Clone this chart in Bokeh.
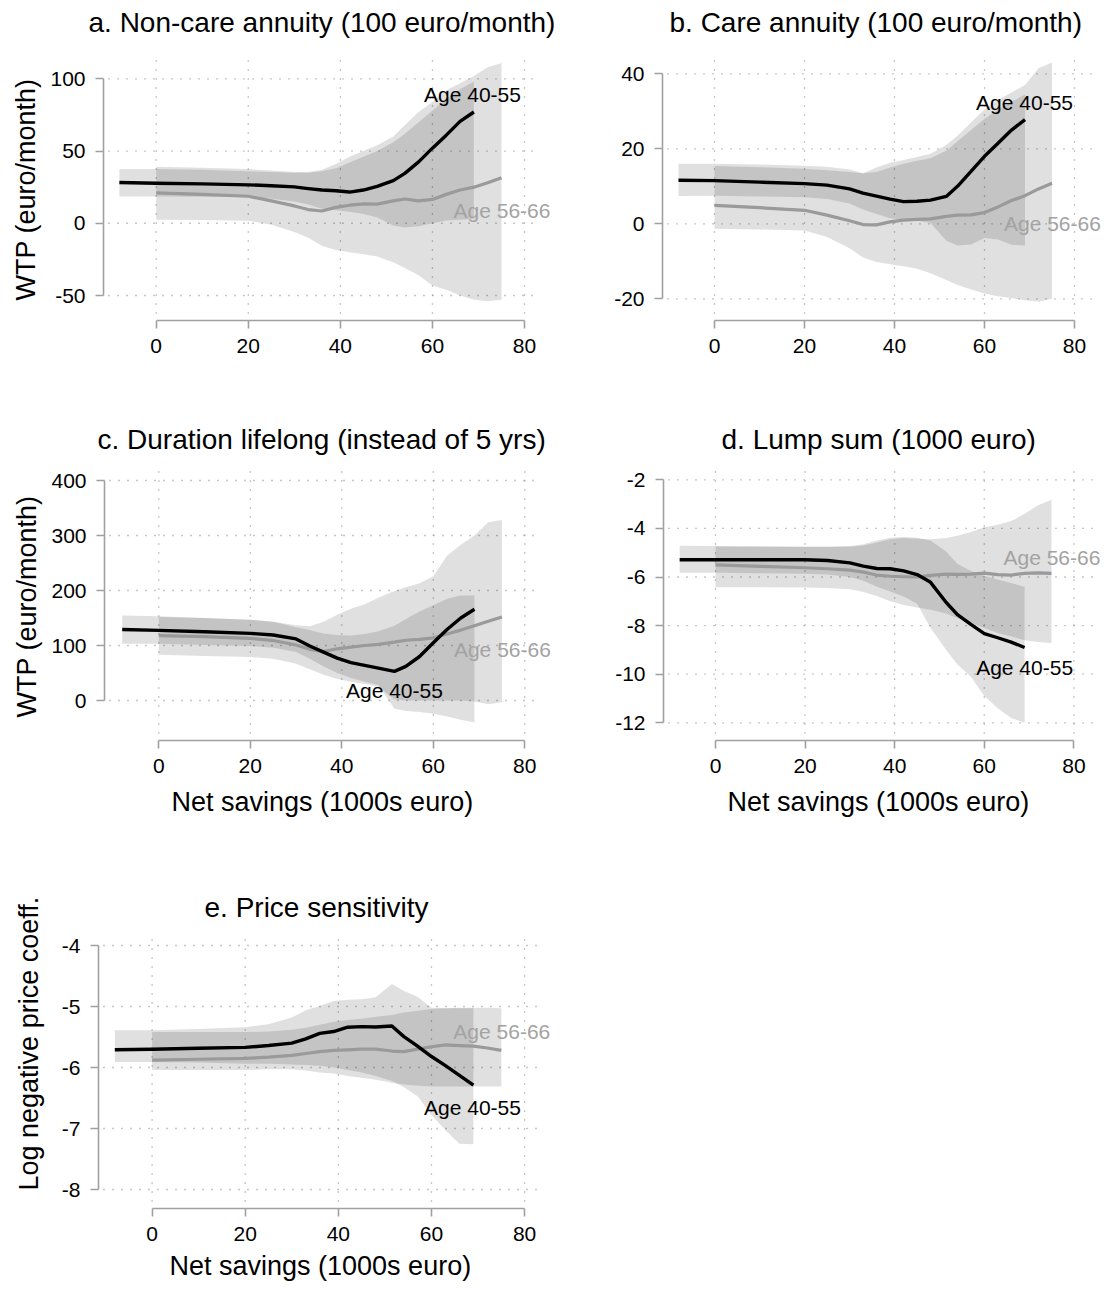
from bokeh.plotting import figure
from bokeh.layouts import column, row
from bokeh.models import Range1d, FixedTicker, PrintfTickFormatter, Title
from bokeh.core.properties import value
from bokeh.embed import file_html
from bokeh.resources import INLINE

FONT = "Liberation Sans"
BLACK = "#000000"
GREY = "#9a9a9a"
GREY_TEXT = "#a3a3a3"
AXIS_GREY = "#a0a0a0"
GRID_GREY = "#8f8f8f"

# Net savings grid (1000s euro) for the two age groups
X_YOUNG = [-8, 0, 10, 20, 25, 30, 33, 36, 39, 42, 45, 48, 51.5, 54, 57, 60, 63, 66, 69]
X_OLD = [0, 10, 20, 25, 30, 33, 36, 39, 42, 45, 48, 51.5, 54, 57, 60, 63, 66, 69, 72, 75]

SERIES_LABELS = ["Age 40-55", "Age 56-66"]
X_TICKS = [0, 20, 40, 60, 80]

# a. Non-care annuity
A_YOUNG = [28.2, 27.7, 27.3, 26.6, 26.0, 25.2, 24.0, 23.0, 22.5, 21.6, 23.0, 25.5, 29.5, 34.5, 42.5, 52.0, 61.0, 70.5, 77.0]
A_YOUNG_LO = [18.5, 18.5, 18.3, 18.0, 17.0, 15.0, 13.0, 10.0, 9.0, 8.0, 6.5, 4.0, -1.5, -3.0, -2.0, 0.0, 2.0, 2.5, 3.0]
A_YOUNG_HI = [37.6, 37.5, 37.0, 36.0, 35.5, 35.0, 35.0, 36.0, 38.0, 42.0, 46.0, 50.0, 56.0, 62.0, 70.0, 78.0, 86.0, 93.0, 98.0]
A_OLD = [21.0, 20.0, 18.7, 15.5, 12.0, 9.5, 8.5, 11.0, 12.5, 13.4, 13.3, 15.5, 16.8, 15.5, 16.5, 20.0, 23.0, 25.0, 28.0, 31.5]
A_OLD_LO = [2.5, 2.3, 1.8, -1.0, -6.0, -10.0, -15.5, -18.5, -20.0, -21.5, -23.0, -27.0, -31.0, -36.0, -43.0, -46.0, -50.0, -53.0, -54.0, -53.0]
A_OLD_HI = [39.2, 38.5, 37.5, 36.5, 35.5, 35.5, 37.0, 41.0, 46.0, 50.0, 54.0, 60.0, 68.0, 77.0, 84.0, 92.0, 97.0, 102.0, 108.0, 111.0]
A_LABEL_X = [68.7, 75.1]
A_LABEL_Y = [89.0, 8.8]
A_Y_TICKS = [-50, 0, 50, 100]

# b. Care annuity
B_YOUNG = [11.6, 11.5, 11.1, 10.7, 10.3, 9.3, 8.2, 7.4, 6.6, 5.9, 6.0, 6.3, 7.3, 10.0, 14.0, 18.0, 21.5, 25.0, 27.8]
B_YOUNG_LO = [7.4, 7.5, 7.3, 7.1, 6.6, 5.4, 3.8, 2.6, 1.5, 1.1, 0.8, 0.2, -4.5, -5.8, -5.5, -3.8, -4.2, -5.6, -5.8]
B_YOUNG_HI = [16.0, 16.0, 15.8, 15.5, 15.2, 14.5, 13.5, 13.8, 15.0, 16.0, 16.8, 17.5, 19.5, 22.0, 25.0, 28.0, 30.5, 32.5, 34.5]
B_OLD = [4.9, 4.3, 3.6, 2.3, 0.8, -0.2, -0.3, 0.5, 1.0, 1.2, 1.3, 2.0, 2.3, 2.4, 3.0, 4.5, 6.2, 7.5, 9.3, 10.8]
B_OLD_LO = [-1.3, -1.5, -1.8, -3.5, -6.5, -9.0, -10.2, -10.8, -11.3, -12.0, -13.2, -15.0, -16.3, -17.5, -18.6, -19.3, -19.8, -20.4, -20.8, -20.0]
B_OLD_HI = [15.4, 15.1, 14.7, 14.3, 13.8, 13.5, 15.0, 16.3, 17.0, 17.8, 18.7, 21.0, 23.5, 27.0, 30.5, 33.0, 35.0, 37.0, 41.5, 43.0]
B_LABEL_X = [68.9, 75.1]
B_LABEL_Y = [32.4, 0.0]
B_Y_TICKS = [-20, 0, 20, 40]

# c. Duration lifelong
C_YOUNG = [129, 127.5, 125, 122, 119, 112, 99, 88, 77, 69, 64, 59, 53, 62, 80, 105, 129, 150, 166]
C_YOUNG_LO = [103, 103, 101, 99, 96, 88, 76, 62, 50, 41, 34, 28, -15, -19, -21, -24, -29, -35, -40]
C_YOUNG_HI = [154.5, 153, 150, 147, 143, 133, 128, 122, 119, 118, 121, 126, 136, 148, 162, 173, 185, 191, 191]
C_OLD = [118, 116, 113, 109, 101, 93, 89, 94, 97, 100, 102, 106, 109.5, 111, 114, 121, 128, 136, 144, 152]
C_OLD_LO = [83, 81, 79, 76, 67, 57, 47, 39, 34, 30, 25, 2, 0, 0, 0, 0, 0, -2, -7, -3]
C_OLD_HI = [152, 150, 147, 143, 137, 135, 143, 156, 167, 175, 187, 199, 206, 213, 226, 263, 283, 300, 324, 328]
C_LABEL_X = [51.5, 75.1]
C_LABEL_Y = [18.0, 92.7]
C_Y_TICKS = [0, 100, 200, 300, 400]

# d. Lump sum
D_YOUNG = [-5.29, -5.29, -5.29, -5.29, -5.32, -5.42, -5.55, -5.65, -5.66, -5.75, -5.9, -6.22, -7.05, -7.55, -7.95, -8.33, -8.5, -8.68, -8.9]
D_YOUNG_LO = [-5.83, -5.83, -5.85, -5.87, -5.9, -6.0, -6.15, -6.4, -6.6, -6.8, -7.1, -8.1, -9.0, -9.6, -10.1, -10.9, -11.4, -11.8, -12.0]
D_YOUNG_HI = [-4.71, -4.72, -4.73, -4.74, -4.74, -4.72, -4.65, -4.5, -4.38, -4.35, -4.38, -4.5, -4.95, -5.45, -5.75, -5.95, -6.1, -6.25, -6.4]
D_OLD = [-5.5, -5.56, -5.62, -5.66, -5.72, -5.8, -5.92, -5.97, -5.99, -6.0, -5.93, -5.88, -5.89, -5.88, -5.84, -5.9, -5.92, -5.85, -5.83, -5.85]
D_OLD_LO = [-6.42, -6.42, -6.43, -6.45, -6.5, -6.62, -6.78, -7.0, -7.15, -7.25, -7.35, -7.5, -7.7, -7.9, -8.1, -8.3, -8.45, -8.6, -8.68, -8.72]
D_OLD_HI = [-4.74, -4.75, -4.77, -4.77, -4.75, -4.7, -4.58, -4.45, -4.4, -4.43, -4.45, -4.4, -4.3, -4.15, -3.95, -3.85, -3.7, -3.4, -3.05, -2.82]
D_LABEL_X = [69.0, 75.1]
D_LABEL_Y = [-9.71, -5.19]
D_Y_TICKS = [-12, -10, -8, -6, -4, -2]

# e. Price sensitivity
E_YOUNG = [-5.71, -5.70, -5.685, -5.67, -5.64, -5.6, -5.53, -5.44, -5.41, -5.34, -5.33, -5.335, -5.32, -5.49, -5.65, -5.82, -5.97, -6.13, -6.29]
E_YOUNG_LO = [-5.91, -5.91, -5.92, -5.94, -5.94, -5.95, -5.96, -5.97, -6.0, -6.04, -6.08, -6.14, -6.22, -6.32, -6.47, -6.78, -7.03, -7.25, -7.26]
E_YOUNG_HI = [-5.39, -5.39, -5.37, -5.34, -5.29, -5.18, -5.06, -4.99, -4.91, -4.89, -4.88, -4.85, -4.63, -4.74, -4.84, -5.02, -5.03, -5.03, -5.03]
E_OLD = [-5.88, -5.865, -5.85, -5.83, -5.8, -5.77, -5.74, -5.72, -5.71, -5.7, -5.7, -5.73, -5.74, -5.7, -5.66, -5.63, -5.64, -5.65, -5.68, -5.72]
E_OLD_LO = [-6.04, -6.04, -6.04, -6.03, -6.03, -6.05, -6.08, -6.1, -6.14, -6.17, -6.2, -6.25, -6.28, -6.3, -6.31, -6.31, -6.31, -6.31, -6.31, -6.31]
E_OLD_HI = [-5.42, -5.42, -5.42, -5.41, -5.38, -5.35, -5.3, -5.25, -5.22, -5.2, -5.17, -5.14, -5.1, -5.07, -5.04, -5.03, -5.02, -5.02, -5.02, -5.03]
E_LABEL_X = [68.8, 75.1]
E_LABEL_Y = [-6.65, -5.41]
E_Y_TICKS = [-8, -7, -6, -5, -4]


class Geometry:
    """Pixel layout of one panel (local to its figure) and pixel -> data mapping.

    The plot frame runs from the y axis to the right edge of the figure, so the
    series labels fit inside it; the title sits in the band above the frame.
    """

    def __init__(self, width, height, axis_x, frame_top, bottom, x0_px, x_scale,
                 y_ref, y_ref_px, y_scale, grid_left, grid_right, grid_top,
                 title_left, xtitle_left=None, xtitle_standoff=0,
                 ytitle_offset=0, ytitle_standoff=0):
        self.width, self.height = width, height
        self.axis_x, self.frame_top, self.bottom = axis_x, frame_top, bottom
        self.x0_px, self.x_scale = x0_px, x_scale
        self.y_ref, self.y_ref_px, self.y_scale = y_ref, y_ref_px, y_scale
        self.grid_left, self.grid_right, self.grid_top = grid_left, grid_right, grid_top
        self.title_left = title_left
        self.xtitle_left, self.xtitle_standoff = xtitle_left, xtitle_standoff
        self.ytitle_offset, self.ytitle_standoff = ytitle_offset, ytitle_standoff

    def dx(self, px):
        return (px - self.x0_px) / self.x_scale

    def dy(self, py):
        return self.y_ref + (self.y_ref_px - py) / self.y_scale


def side_title(text, size, offset, standoff, vertical_align):
    return Title(text=text, align="left", vertical_align=vertical_align,
                 offset=offset, standoff=standoff, text_font=FONT,
                 text_font_size=size, text_font_style="normal", text_color=BLACK)


def make_panel(title, young, young_lo, young_hi, old, old_lo, old_hi,
               label_x, label_y, y_ticks, g, y_title=None, x_title=None):
    p = figure(width=g.width, height=g.height,
               x_range=Range1d(g.dx(g.axis_x), g.dx(g.width)),
               y_range=Range1d(g.dy(g.bottom), g.dy(g.frame_top)),
               output_backend="svg", toolbar_location=None,
               min_border_left=g.axis_x, min_border_right=0,
               min_border_top=g.frame_top, min_border_bottom=g.height - g.bottom)
    p.outline_line_color = None
    p.background_fill_color = "white"
    p.border_fill_color = "white"
    p.xgrid.visible = False
    p.ygrid.visible = False

    # dotted reference lines at the tick values, kept inside the plot region
    n_y = len(y_ticks)
    p.segment(x0=[g.dx(g.grid_left)] * n_y, x1=[g.dx(g.grid_right)] * n_y,
              y0=y_ticks, y1=y_ticks,
              line_color=GRID_GREY, line_width=1.3, line_dash="1 8")
    n_x = len(X_TICKS)
    p.segment(x0=X_TICKS, x1=X_TICKS,
              y0=[g.dy(g.bottom - 7)] * n_x, y1=[g.dy(g.grid_top)] * n_x,
              line_color=GRID_GREY, line_width=1.3, line_dash="1 8")

    # confidence bands: translucent grey, the overlap reads darker
    p.varea(x=X_OLD, y1=old_lo, y2=old_hi, fill_color=BLACK, fill_alpha=0.12)
    p.varea(x=X_YOUNG, y1=young_lo, y2=young_hi, fill_color=BLACK, fill_alpha=0.12)

    p.line(X_OLD, old, line_color=GREY, line_width=3.2, line_join="round")
    p.line(X_YOUNG, young, line_color=BLACK, line_width=3.4, line_join="round")

    p.text(x=label_x[:1], y=label_y[:1], text=SERIES_LABELS[:1],
           text_font=value(FONT), text_font_size="21px", text_color=BLACK,
           text_align="center", text_baseline="middle")
    p.text(x=label_x[1:], y=label_y[1:], text=SERIES_LABELS[1:],
           text_font=value(FONT), text_font_size="21px", text_color=GREY_TEXT,
           text_align="center", text_baseline="middle")

    # panel title, in the band above the frame
    p.add_layout(side_title(title, "28px", g.title_left - g.axis_x, 2, "bottom"),
                 "above")

    xa = p.xaxis[0]
    ya = p.yaxis[0]
    xa.ticker = FixedTicker(ticks=X_TICKS)
    ya.ticker = FixedTicker(ticks=y_ticks)
    xa.bounds = (X_TICKS[0], X_TICKS[-1])
    ya.bounds = (y_ticks[0], y_ticks[-1])
    for ax in (xa, ya):
        ax.formatter = PrintfTickFormatter(format="%d")
        ax.axis_line_color = AXIS_GREY
        ax.axis_line_width = 1.6
        ax.major_tick_line_color = AXIS_GREY
        ax.major_tick_line_width = 1.6
        ax.major_tick_in = 0
        ax.major_tick_out = 8
        ax.minor_tick_line_color = None
        ax.major_label_text_font = FONT
        ax.major_label_text_font_size = "21px"
        ax.major_label_text_color = BLACK
        ax.major_label_standoff = 10
    if x_title:
        p.add_layout(side_title(x_title, "27px", g.xtitle_left - g.axis_x,
                                g.xtitle_standoff, "top"), "below")
    if y_title:
        p.add_layout(side_title(y_title, "27px", g.ytitle_offset,
                                g.ytitle_standoff, "top"), "left")
    return p


X_LABEL = "Net savings (1000s euro)"
WTP_LABEL = "WTP (euro/month)"

ga = Geometry(555, 400, axis_x=103, frame_top=38, bottom=320, x0_px=155.7, x_scale=4.604,
              y_ref=100, y_ref_px=78.3, y_scale=1.4447,
              grid_left=108, grid_right=540, grid_top=57, title_left=88,
              ytitle_offset=20, ytitle_standoff=9)
gb = Geometry(555, 400, axis_x=107, frame_top=38, bottom=320, x0_px=159, x_scale=4.5,
              y_ref=40, y_ref_px=73.3, y_scale=3.75,
              grid_left=112, grid_right=542, grid_top=57, title_left=114)
gc = Geometry(555, 450, axis_x=104, frame_top=55, bottom=340, x0_px=158.3, x_scale=4.575,
              y_ref=400, y_ref_px=80, y_scale=0.55,
              grid_left=109, grid_right=540, grid_top=68, title_left=97,
              xtitle_left=171, xtitle_standoff=22, ytitle_offset=23, ytitle_standoff=9)
gd = Geometry(555, 450, axis_x=108, frame_top=55, bottom=340, x0_px=160, x_scale=4.48,
              y_ref=-2, y_ref_px=79.3, y_scale=24.3,
              grid_left=113, grid_right=542, grid_top=68, title_left=166,
              xtitle_left=172, xtitle_standoff=22)
ge = Geometry(555, 440, axis_x=97, frame_top=73, bottom=358, x0_px=150.7, x_scale=4.667,
              y_ref=-4, y_ref_px=95, y_scale=61,
              grid_left=102, grid_right=540, grid_top=86, title_left=203,
              xtitle_left=168, xtitle_standoff=14, ytitle_offset=18, ytitle_standoff=26)

pa = make_panel("a. Non-care annuity (100 euro/month)",
                A_YOUNG, A_YOUNG_LO, A_YOUNG_HI, A_OLD, A_OLD_LO, A_OLD_HI,
                A_LABEL_X, A_LABEL_Y, A_Y_TICKS, ga, y_title=WTP_LABEL)
pb = make_panel("b. Care annuity (100 euro/month)",
                B_YOUNG, B_YOUNG_LO, B_YOUNG_HI, B_OLD, B_OLD_LO, B_OLD_HI,
                B_LABEL_X, B_LABEL_Y, B_Y_TICKS, gb)
pc = make_panel("c. Duration lifelong (instead of 5 yrs)",
                C_YOUNG, C_YOUNG_LO, C_YOUNG_HI, C_OLD, C_OLD_LO, C_OLD_HI,
                C_LABEL_X, C_LABEL_Y, C_Y_TICKS, gc,
                y_title=WTP_LABEL, x_title=X_LABEL)
pd_ = make_panel("d. Lump sum (1000 euro)",
                 D_YOUNG, D_YOUNG_LO, D_YOUNG_HI, D_OLD, D_OLD_LO, D_OLD_HI,
                 D_LABEL_X, D_LABEL_Y, D_Y_TICKS, gd, x_title=X_LABEL)
pe = make_panel("e. Price sensitivity",
                E_YOUNG, E_YOUNG_LO, E_YOUNG_HI, E_OLD, E_OLD_LO, E_OLD_HI,
                E_LABEL_X, E_LABEL_Y, E_Y_TICKS, ge,
                y_title="Log negative price coeff.", x_title=X_LABEL)

layout = column(row(pa, pb), row(pc, pd_), pe)

with open("out.html", "w") as f:
    f.write(file_html(layout, INLINE, title="Net savings"))
